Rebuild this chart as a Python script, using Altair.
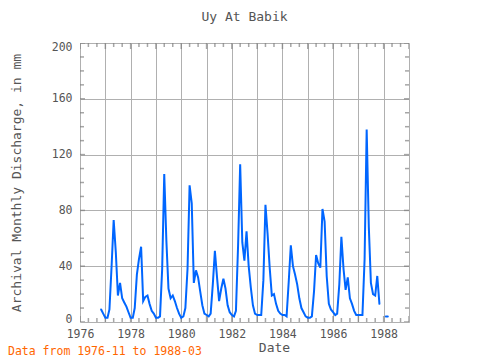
import altair as alt
import pandas as pd

FONT = "DejaVu Sans Mono"

chart_title = "Uy At Babik"
y_title = "Archival Monthly Discharge, in mm"
x_title = "Date"
footnote = "Data from 1976-11 to 1988-03"

# Monthly discharge (mm)
v1976 = [9, 6]  # Nov, Dec
v1977 = [3, 3, 9, 40, 73, 50, 19, 28, 17, 14, 11, 7]
v1978 = [3, 3, 10, 34, 45, 54, 15, 18, 19, 13, 8, 6]
v1979 = [3, 3, 4, 38, 106, 58, 24, 17, 19, 15, 10, 6]
v1980 = [3, 4, 10, 38, 98, 85, 28, 37, 32, 22, 12, 6]
v1981 = [5, 4, 6, 27, 51, 32, 15, 24, 31, 24, 12, 7]
v1982 = [5, 4, 8, 55, 113, 57, 44, 65, 40, 25, 12, 6]
v1983 = [5, 5, 5, 30, 84, 63, 39, 19, 20, 13, 8, 6]
v1984 = [5, 5, 4, 29, 55, 40, 34, 27, 17, 10, 7, 4]
v1985 = [3, 3, 4, 22, 48, 42, 39, 81, 72, 33, 13, 9]
v1986 = [7, 5, 6, 27, 61, 38, 23, 32, 17, 13, 8, 5]
v1987 = [5, 5, 5, 45, 138, 68, 28, 20, 19, 33, 13]  # Jan..Nov
v1988 = [4, 4]  # Feb, Mar (after a gap)

y_ticks = [0, 40, 80, 120, 160, 200]
x_years = list(range(1976, 1990))

main_vals = v1976 + v1977 + v1978 + v1979 + v1980 + v1981 + v1982 + v1983 + v1984 + v1985 + v1986 + v1987
main_dates = pd.date_range("1976-11-01", periods=len(main_vals), freq="MS")
tail_dates = pd.date_range("1988-02-01", periods=len(v1988), freq="MS")

df = pd.DataFrame({
    "date": list(main_dates.strftime("%Y-%m-%dT00:00:00")) + list(tail_dates.strftime("%Y-%m-%dT00:00:00")),
    "value": main_vals + v1988,
    "seg": [0] * len(main_vals) + [1] * len(v1988),
})

# inward tick marks (frame decorations)
xt = pd.date_range("1976-01-01", "1989-01-01", freq="4MS")
xtick_df = pd.DataFrame({
    "date": xt.strftime("%Y-%m-%dT00:00:00"),
    "len": [12 if d.month == 1 else 8 for d in xt],
})
ytick_vals = list(range(0, 201, 10))
ytick_df = pd.DataFrame({
    "value": ytick_vals,
    "len": [10 if v % 40 == 0 else 8 for v in ytick_vals],
})

W, H = 329, 279
GRAY = "#808080"
TXT = "#555555"

x_scale = alt.Scale(domain=[alt.DateTime(year=1976, month=1, date=1),
                            alt.DateTime(year=1989, month=1, date=1)], nice=False)
y_scale = alt.Scale(domain=[0, 200], nice=False)

x_axis = alt.Axis(
    title=x_title,
    values=[alt.DateTime(year=y, month=1, date=1) for y in x_years],
    labelExpr="year(datum.value) % 2 == 0 ? timeFormat(datum.value, '%Y') : ''",
    labelFlush=False, labelOverlap=False,
    ticks=False, domain=False, grid=True, gridColor="#b0b0b0", gridWidth=1,
    labelPadding=6, labelFont=FONT, labelFontSize=11.5, labelColor=TXT,
    titleFont=FONT, titleFontSize=13, titleFontWeight="normal", titleColor=TXT,
    titleX=194, titleY=19, titleBaseline="top",
)
y_axis = alt.Axis(
    title=y_title,
    values=y_ticks,
    labelFlush=True, labelFlushOffset=2,
    ticks=False, domain=False, grid=True, gridColor="#b0b0b0", gridWidth=1,
    labelPadding=8, labelFont=FONT, labelFontSize=11.5, labelColor=TXT,
    titleFont=FONT, titleFontSize=13, titleFontWeight="normal", titleColor=TXT,
    titleX=-57, titleY=139.5,
)

X = alt.X("date:T", scale=x_scale, axis=x_axis)
Y = alt.Y("value:Q", scale=y_scale, axis=y_axis)

line = alt.Chart(df).mark_line(color="#0066ff", strokeWidth=2, strokeCap="round").encode(
    x=X, y=Y, detail="seg:N"
)

xt_bottom = alt.Chart(xtick_df).mark_tick(orient="vertical", clip=True, color=GRAY, thickness=1.5).encode(
    x=X, y=alt.value(H), size=alt.Size("len:Q", scale=None)
)
xt_top = alt.Chart(xtick_df).mark_tick(orient="vertical", clip=True, color=GRAY, thickness=1.5).encode(
    x=X, y=alt.value(0), size=alt.Size("len:Q", scale=None)
)
yt_left = alt.Chart(ytick_df).mark_tick(orient="horizontal", clip=True, color=GRAY, thickness=1.5).encode(
    y=Y, x=alt.value(0), size=alt.Size("len:Q", scale=None)
)
yt_right = alt.Chart(ytick_df).mark_tick(orient="horizontal", clip=True, color=GRAY, thickness=1.5).encode(
    y=Y, x=alt.value(W), size=alt.Size("len:Q", scale=None)
)

note = alt.Chart(pd.DataFrame({"t": [footnote]})).mark_text(
    align="left", baseline="middle", font=FONT, fontSize=11.5, color="#ff6600"
).encode(x=alt.value(-72), y=alt.value(H + 30), text="t:N")

chart = alt.layer(xt_bottom, xt_top, yt_left, yt_right, line, note).properties(
    width=W, height=H,
    title=alt.TitleParams(text=chart_title, font=FONT, fontSize=13, fontWeight="normal",
                          color=TXT, anchor="middle", frame="group", offset=7,
                          baseline="alphabetic"),
    autosize=alt.AutoSizeParams(type="none"),
    padding={"left": 72, "top": 35, "right": 8, "bottom": 40},
).configure_view(stroke=GRAY, strokeWidth=2).configure(background="white")

chart.save("out.html", embed_options={"renderer": "svg", "actions": False})
